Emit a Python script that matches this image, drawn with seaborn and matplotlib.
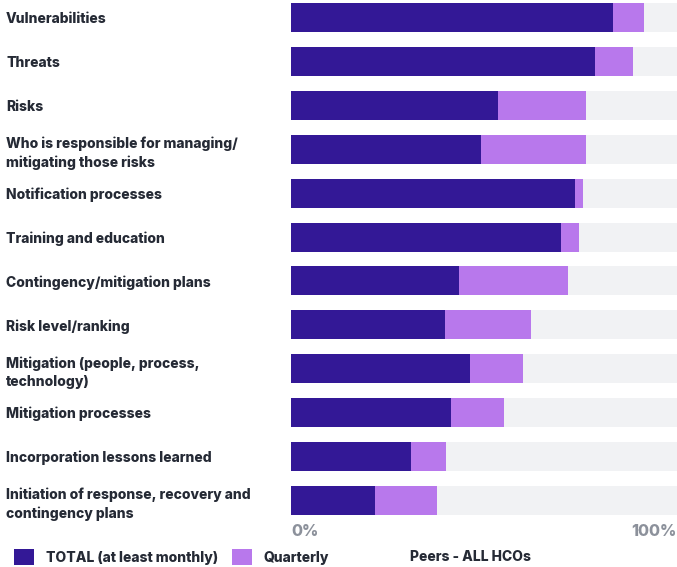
import matplotlib
matplotlib.use("Agg")
import matplotlib.pyplot as plt
from matplotlib.patches import Patch
import seaborn as sns
import pandas as pd

categories = [
    "Vulnerabilities",
    "Threats",
    "Risks",
    "Who is responsible for managing/\nmitigating those risks",
    "Notification processes",
    "Training and education",
    "Contingency/mitigation plans",
    "Risk level/ranking",
    "Mitigation (people, process,\ntechnology)",
    "Mitigation processes",
    "Incorporation lessons learned",
    "Initiation of response, recovery and\ncontingency plans",
]
total_monthly = [83.4, 78.8, 53.6, 49.2, 73.6, 69.9, 43.5, 39.9, 46.4, 41.5, 31.1, 21.8]
quarterly = [8.0, 9.8, 22.8, 27.2, 2.0, 4.7, 28.3, 22.3, 13.7, 13.7, 9.1, 16.0]
peers_all = [100, 100, 100, 100, 100, 100, 100, 100, 100, 100, 100, 100]
x_tick_labels = ["0%", "100%"]

DARK = "#331896"
LIGHT = "#B878EC"
TRACK = "#F1F2F4"
TEXT = "#252A35"
GREY = "#8C919B"

df = pd.DataFrame({
    "category": categories,
    "total": total_monthly,
    "quarterly": quarterly,
    "peers": peers_all,
})
df["stacked"] = df["total"] + df["quarterly"]

sns.set_theme(style="white")
plt.rcParams["font.family"] = ["Inter", "DejaVu Sans"]

W, H = 677, 567
fig = plt.figure(figsize=(W / 100, H / 100), dpi=100)
ax = fig.add_axes([291 / W, 1 - 522.4 / H, 386 / W, 522.4 / H])

bar_w = 0.66
sns.barplot(data=df, x="peers", y="category", color=TRACK, width=bar_w,
            errorbar=None, ax=ax, saturation=1, linewidth=0)
sns.barplot(data=df, x="stacked", y="category", color=LIGHT, width=bar_w,
            errorbar=None, ax=ax, saturation=1, linewidth=0)
sns.barplot(data=df, x="total", y="category", color=DARK, width=bar_w,
            errorbar=None, ax=ax, saturation=1, linewidth=0)

ax.set_xlim(0, 100)
ax.set_ylim(len(categories) - 0.5, -0.4)
ax.set_xlabel("")
ax.set_ylabel("")
for s in ax.spines.values():
    s.set_visible(False)

# category labels, left-aligned near the figure edge
ax.tick_params(axis="y", length=0, pad=(291 - 6) * 0.72)
ax.set_yticks(range(len(categories)))
ax.set_yticklabels(categories, ha="left", fontsize=10, fontweight="heavy",
                   color=TEXT, linespacing=1.4)

ax.set_xticks([0, 100])
ax.set_xticklabels(x_tick_labels, fontsize=11.5, fontweight="heavy", color=GREY)
ax.tick_params(axis="x", length=0, pad=1)
xl = ax.get_xticklabels()
xl[0].set_ha("left")
xl[1].set_ha("right")

handles = [Patch(facecolor=DARK, edgecolor="none"),
           Patch(facecolor=LIGHT, edgecolor="none")]
fig.legend(handles, ["TOTAL (at least monthly)", "Quarterly"],
           loc="center left", bbox_to_anchor=(14 / W, 1 - 557 / H),
           ncol=2, frameon=False, borderpad=0, borderaxespad=0,
           handlelength=1.45, handleheight=1.5, handletextpad=0.85,
           columnspacing=1.0,
           prop={"size": 10, "weight": "heavy"}, labelcolor=TEXT)
fig.text(410 / W, 1 - 557 / H, "Peers - ALL HCOs", ha="left", va="center",
         fontsize=10, fontweight="heavy", color=TEXT)

fig.savefig("out.png", dpi=100, facecolor="white")
